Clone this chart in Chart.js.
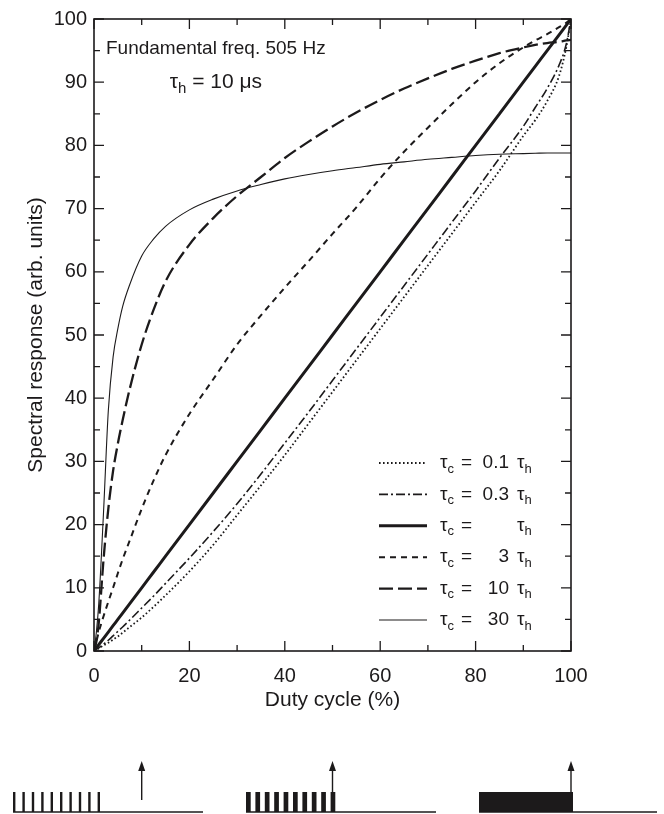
<!DOCTYPE html>
<html>
<head>
<meta charset="utf-8">
<script src="https://cdn.jsdelivr.net/npm/chart.js@4.4.1/dist/chart.umd.min.js"></script>
<style>
  html, body { margin: 0; padding: 0; background: #ffffff; }
  #wrap { width: 664px; height: 814px; }
</style>
</head>
<body>
<div id="wrap"><canvas id="c" width="664" height="814"></canvas></div>
<script>
// ---------------- data ----------------
const duty = [0, 0.5, 1, 2, 3, 4, 5, 6, 7.5, 10, 12.5, 15, 20, 25, 30, 35, 40, 45, 50, 55, 60, 65, 70, 75, 80, 85, 90, 92.5, 95, 97.5, 99, 100];

const resp_tc01 = [0, 0.2, 0.4, 0.9, 1.3, 1.8, 2.3, 2.9, 3.8, 5.3, 7.0, 8.8, 12.6, 16.8, 21.5, 26.2, 31, 36, 41, 46, 51, 56, 61, 66, 71, 76, 81.5, 84, 87, 91, 95.5, 100];
const resp_tc03 = [0, 0.3, 0.5, 1.1, 1.7, 2.4, 3.1, 3.8, 4.9, 6.8, 8.7, 10.7, 14.7, 18.9, 23.3, 28, 32.9, 37.8, 42.8, 47.8, 52.8, 57.8, 62.8, 67.8, 72.8, 78, 83, 86, 89, 92.7, 96, 100];
const resp_tc1  = [0, 0.5, 1, 2, 3, 4, 5, 6, 7.5, 10, 12.5, 15, 20, 25, 30, 35, 40, 45, 50, 55, 60, 65, 70, 75, 80, 85, 90, 92.5, 95, 97.5, 99, 100];
const resp_tc3  = [0, 1.5, 3, 5.5, 7.8, 10, 12.3, 14.5, 17.5, 22.5, 27, 31, 37.5, 43, 48.5, 53.1, 57.5, 61.7, 66, 70.2, 74.8, 79, 82.8, 86.5, 90, 93, 95.5, 96.6, 97.6, 98.7, 99.4, 100];
const resp_tc10 = [0, 1.5, 4.5, 14.5, 22.5, 28.5, 32.8, 36.5, 41.5, 48.5, 54, 58.5, 64.3, 68.5, 72, 75, 78, 80.6, 83, 85.2, 87.2, 89, 90.6, 92.1, 93.4, 94.6, 95.5, 95.9, 96.2, 96.4, 96.6, 96.7];
const resp_tc30 = [0, 3, 7.5, 22, 38, 46.5, 51, 54.5, 58, 62.5, 65.2, 67.2, 69.8, 71.5, 72.8, 73.8, 74.7, 75.4, 76, 76.5, 77, 77.4, 77.8, 78.1, 78.4, 78.6, 78.7, 78.75, 78.8, 78.8, 78.8, 78.8];

const seriesNumbers = ['0.1', '0.3', '', '3', '10', '30'];
const xTickValues = [0, 20, 40, 60, 80, 100];
const yTickValues = [0, 10, 20, 30, 40, 50, 60, 70, 80, 90, 100];
const exampleDuty = [10, 50, 100];
const annotationLine1 = 'Fundamental freq. 505 Hz';
const annotationLine2 = ['τ', 'h', ' = 10 μs'];

// ---------------- styles ----------------
const INK = '#1c1a1b';
const FONT = "'Liberation Sans', Arial, Helvetica, sans-serif";

function pts(ys) { return duty.map((d, i) => ({ x: d, y: ys[i] })); }

const styles = [
  { w: 1.8, dash: [1.6, 2.4] },
  { w: 1.6, dash: [9, 3, 2, 3] },
  { w: 3.0, dash: [] },
  { w: 2.0, dash: [6, 5] },
  { w: 2.3, dash: [14, 5] },
  { w: 1.1, dash: [] }
];
const allSeries = [resp_tc01, resp_tc03, resp_tc1, resp_tc3, resp_tc10, resp_tc30];

const datasets = allSeries.map((s, i) => ({
  label: 'tc = ' + (seriesNumbers[i] || '1') + ' th',
  data: pts(s),
  borderColor: INK,
  borderWidth: styles[i].w,
  borderDash: styles[i].dash,
  pointRadius: 0,
  fill: false,
  cubicInterpolationMode: 'monotone',
  borderCapStyle: 'butt'
}));

function measureRich(ctx, parts, size) {
  let w = 0;
  parts.forEach(p => {
    ctx.font = (p.sub ? Math.round(size * 0.7) : size) + 'px ' + FONT;
    w += ctx.measureText(p.t).width;
  });
  return w;
}
// draw text pieces with subscripts; returns end x
function drawRich(ctx, parts, x, y, size) {
  let cx = x;
  parts.forEach(p => {
    if (p.sub) {
      ctx.font = Math.round(size * 0.7) + 'px ' + FONT;
      ctx.fillText(p.t, cx, y + size * 0.32);
    } else {
      ctx.font = size + 'px ' + FONT;
      ctx.fillText(p.t, cx, y);
    }
    cx += ctx.measureText(p.t).width;
  });
  return cx;
}

const decorPlugin = {
  id: 'decor',
  afterDraw(chart) {
    const ctx = chart.ctx;
    const a = chart.chartArea;
    const xs = chart.scales.x, ys = chart.scales.y;
    ctx.save();
    ctx.strokeStyle = INK;
    ctx.fillStyle = INK;
    // frame
    ctx.lineWidth = 1.6;
    ctx.setLineDash([]);
    ctx.strokeRect(a.left, a.top, a.right - a.left, a.bottom - a.top);
    // inward ticks
    ctx.lineWidth = 1.3;
    ctx.beginPath();
    for (let v = 0; v <= 100; v += 10) {
      const px = xs.getPixelForValue(v);
      const len = (v % 20 === 0) ? 10 : 6;
      ctx.moveTo(px, a.bottom); ctx.lineTo(px, a.bottom - len);
      ctx.moveTo(px, a.top); ctx.lineTo(px, a.top + len);
    }
    for (let v = 0; v <= 100; v += 5) {
      const py = ys.getPixelForValue(v);
      const len = (v % 10 === 0) ? 10 : 6;
      ctx.moveTo(a.left, py); ctx.lineTo(a.left + len, py);
      ctx.moveTo(a.right, py); ctx.lineTo(a.right - len, py);
    }
    ctx.stroke();

    // annotation
    ctx.textBaseline = 'middle';
    ctx.textAlign = 'left';
    ctx.font = '19px ' + FONT;
    const l1x = a.left + 12;
    const l1w = ctx.measureText(annotationLine1).width;
    ctx.fillText(annotationLine1, l1x, a.top + 30);
    const parts2 = [{ t: annotationLine2[0] }, { t: annotationLine2[1], sub: true }, { t: annotationLine2[2] }];
    const size2 = 21;
    const w2 = measureRich(ctx, parts2, size2);
    drawRich(ctx, parts2, l1x + l1w / 2 - w2 / 2, a.top + 63, size2);

    // legend
    const rowY0 = 463, rowGap = 31.4;
    const lx0 = a.right - 192, lx1 = a.right - 144;
    const tauX = a.right - 131, eqX = a.right - 110, numR = a.right - 62, tau2X = a.right - 54;
    const size = 19;
    chart.data.datasets.forEach((ds, i) => {
      const y = rowY0 + i * rowGap;
      ctx.save();
      ctx.lineWidth = ds.borderWidth;
      ctx.setLineDash(ds.borderDash);
      ctx.beginPath();
      ctx.moveTo(lx0, y); ctx.lineTo(lx1, y);
      ctx.stroke();
      ctx.restore();
      ctx.textBaseline = 'middle';
      ctx.textAlign = 'left';
      drawRich(ctx, [{ t: 'τ' }, { t: 'c', sub: true }], tauX, y, size);
      ctx.font = size + 'px ' + FONT;
      ctx.fillText('=', eqX, y);
      ctx.textAlign = 'right';
      ctx.fillText(seriesNumbers[i], numR, y);
      ctx.textAlign = 'left';
      drawRich(ctx, [{ t: 'τ' }, { t: 'h', sub: true }], tau2X, y, size);
    });

    // example pulse trains with arrows
    const arrowTop = 761, arrowBottom = 800;
    exampleDuty.forEach((d, i) => {
      const ax = xs.getPixelForValue(d);
      ctx.lineWidth = 1.4;
      ctx.beginPath();
      ctx.moveTo(ax, arrowBottom); ctx.lineTo(ax, arrowTop + 6);
      ctx.stroke();
      ctx.beginPath();
      ctx.moveTo(ax, arrowTop);
      ctx.lineTo(ax - 3.5, arrowTop + 10);
      ctx.lineTo(ax + 3.5, arrowTop + 10);
      ctx.closePath();
      ctx.fill();

      const start = 13 + i * 233;
      const period = 9.4, n = 10;
      const pTop = 792, pBot = 812;
      const w = Math.max(2.4, period * d / 100);
      if (w >= period) {
        ctx.fillRect(start, pTop, period * n, pBot - pTop);
      } else {
        for (let k = 0; k < n; k++) {
          ctx.fillRect(start + k * period, pTop, w, pBot - pTop);
        }
      }
      ctx.lineWidth = 1.6;
      ctx.beginPath();
      ctx.moveTo(start, pBot); ctx.lineTo(start + (i === 2 ? 178 : 190), pBot);
      ctx.stroke();
    });
    ctx.restore();
  }
};

new Chart(document.getElementById('c'), {
  type: 'line',
  data: { datasets },
  options: {
    responsive: false,
    animation: false,
    devicePixelRatio: 1,
    layout: { padding: { left: 0, top: 16, right: 93, bottom: 91 } },
    plugins: { legend: { display: false }, tooltip: { enabled: false }, title: { display: false } },
    scales: {
      x: {
        type: 'linear', min: 0, max: 100,
        afterFit(s) { s.height = 72; },
        afterBuildTicks(s) { s.ticks = xTickValues.map(v => ({ value: v })); },
        ticks: { font: { family: FONT, size: 20 }, color: INK, padding: 13, maxRotation: 0 },
        grid: { display: false, drawTicks: false },
        border: { display: false },
        title: { display: true, text: 'Duty cycle (%)', color: INK, font: { family: FONT, size: 21 }, padding: { top: 0, bottom: 10 } }
      },
      y: {
        type: 'linear', min: 0, max: 100,
        afterFit(s) { s.width = 94; },
        afterBuildTicks(s) { s.ticks = yTickValues.map(v => ({ value: v })); },
        ticks: { font: { family: FONT, size: 20 }, color: INK, padding: 7 },
        grid: { display: false, drawTicks: false },
        border: { display: false },
        title: { display: true, text: 'Spectral response (arb. units)', color: INK, font: { family: FONT, size: 21 }, padding: { top: 24, bottom: 0 } }
      }
    }
  },
  plugins: [decorPlugin]
});
</script>
</body>
</html>
